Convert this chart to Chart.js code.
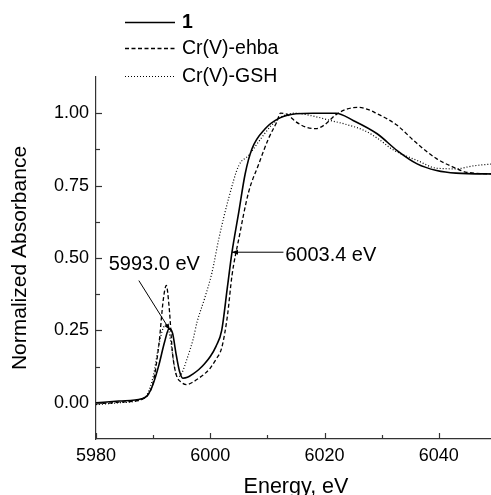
<!DOCTYPE html>
<html>
<head>
<meta charset="utf-8">
<script src="https://cdn.jsdelivr.net/npm/chart.js@4.4.0/dist/chart.umd.min.js"></script>
<style>
  html, body { margin: 0; padding: 0; background: #fff; overflow: hidden; }
  #wrap { width: 491px; height: 495px; overflow: hidden; }
</style>
</head>
<body>
<div id="wrap"><canvas id="xanes" width="502" height="495"></canvas></div>
<script>
  // sample 1 (solid)
  const energy1 = [5980, 5984, 5988, 5989, 5990, 5991, 5992, 5992.8, 5993.4, 5994, 5994.6, 5995.2, 5996, 5997, 5998, 5999, 6000, 6001, 6002, 6003, 6003.8, 6005, 6006.1, 6007.3, 6009.6, 6012, 6015, 6018, 6022, 6025, 6029.2, 6032.7, 6036.2, 6039.6, 6043, 6050];
  const abs1 = [0.000, 0.006, 0.014, 0.025, 0.065, 0.13, 0.21, 0.256, 0.24, 0.17, 0.11, 0.085, 0.088, 0.10, 0.115, 0.135, 0.16, 0.195, 0.25, 0.40, 0.52, 0.66, 0.79, 0.877, 0.946, 0.982, 0.998, 1.0, 1.0, 0.975, 0.929, 0.871, 0.825, 0.802, 0.793, 0.79];

  // Cr(V)-ehba (dashed)
  const energy2 = [5980, 5984, 5988, 5989, 5990, 5991, 5991.8, 5992.3, 5992.8, 5993.4, 5994, 5995, 5995.8, 5997, 5998, 5999, 6000, 6001, 6002, 6003, 6003.8, 6005, 6006.7, 6008.4, 6010.2, 6011.6, 6012.3, 6013.5, 6015, 6017, 6018.5, 6020, 6022, 6024, 6026, 6028, 6029.2, 6031, 6032.7, 6036.2, 6039.6, 6042.5, 6044.9, 6050];
  const abs2 = [-0.004, 0.002, 0.012, 0.025, 0.07, 0.20, 0.36, 0.405, 0.33, 0.17, 0.10, 0.07, 0.063, 0.072, 0.085, 0.10, 0.12, 0.15, 0.19, 0.30, 0.44, 0.567, 0.727, 0.82, 0.913, 0.968, 1.0, 0.995, 0.97, 0.95, 0.947, 0.96, 0.995, 1.015, 1.02, 1.01, 0.998, 0.98, 0.958, 0.895, 0.843, 0.814, 0.796, 0.79];

  // Cr(V)-GSH (dotted)
  const energy3 = [5980, 5984, 5988, 5989, 5990, 5991, 5991.8, 5992.4, 5993, 5993.6, 5994.2, 5994.8, 5996, 5997, 5997.7, 5999, 6000.3, 6001.5, 6003.2, 6005, 6006.7, 6008.4, 6010.7, 6012.5, 6014.8, 6018, 6021, 6024, 6027, 6029.5, 6031.5, 6032.7, 6036.2, 6039.6, 6043, 6046, 6050];
  const abs3 = [-0.006, 0.0, 0.012, 0.03, 0.09, 0.20, 0.26, 0.27, 0.22, 0.14, 0.09, 0.095, 0.156, 0.22, 0.28, 0.36, 0.45, 0.567, 0.705, 0.82, 0.854, 0.90, 0.958, 0.988, 1.0, 0.99, 0.975, 0.96, 0.94, 0.91, 0.88, 0.866, 0.837, 0.81, 0.808, 0.818, 0.826];

  const seriesNames = ["1", "Cr(V)-ehba", "Cr(V)-GSH"];
  const seriesDash = [[], [4, 2.5], [1, 2]];
  const yTicks = [0, 0.125, 0.25, 0.375, 0.5, 0.625, 0.75, 0.875, 1.0];
  const xTicks = [5980, 5990, 6000, 6010, 6020, 6030, 6040, 6050];

  // annotations: [text, textE, textA, fromE, fromA, toE, toA, textAlign]
  const notes = [
    ["5993.0 eV", 5990.2, 0.477, 5987.5, 0.422, 5992.9, 0.252, "center"],
    ["6003.4 eV", 6013.1, 0.508, 6012.8, 0.52, 6003.8, 0.52, "left"],
  ];

  const FONT = "'Liberation Sans', Arial, sans-serif";

  function zip(xs, ys) {
    return xs.map((x, i) => ({ x: x, y: ys[i] }));
  }

  function arrowHead(ctx, x1, y1, x2, y2) {
    const ang = Math.atan2(y2 - y1, x2 - x1);
    const len = 6, wid = 2.5;
    ctx.beginPath();
    ctx.moveTo(x2, y2);
    ctx.lineTo(x2 - len * Math.cos(ang) + wid * Math.sin(ang), y2 - len * Math.sin(ang) - wid * Math.cos(ang));
    ctx.lineTo(x2 - len * Math.cos(ang) - wid * Math.sin(ang), y2 - len * Math.sin(ang) + wid * Math.cos(ang));
    ctx.closePath();
    ctx.fill();
  }

  const extras = {
    id: "extras",
    afterDraw(chart) {
      const ctx = chart.ctx;
      const xs = chart.scales.x, ys = chart.scales.y;
      const area = chart.chartArea;
      ctx.save();
      ctx.strokeStyle = "#333";
      ctx.lineWidth = 1.2;
      // inward ticks
      yTicks.forEach((v) => {
        const y = Math.round(ys.getPixelForValue(v)) + 0.5;
        const len = (v / 0.25) % 1 === 0 ? 6 : 4;
        ctx.beginPath();
        ctx.moveTo(area.left, y);
        ctx.lineTo(area.left + len, y);
        ctx.stroke();
      });
      xTicks.forEach((v) => {
        const x = Math.round(xs.getPixelForValue(v)) + 0.5;
        const len = ((v - 5980) / 20) % 1 === 0 ? 6 : 4;
        ctx.beginPath();
        ctx.moveTo(x, area.bottom);
        ctx.lineTo(x, area.bottom - len);
        ctx.stroke();
      });

      // annotations
      ctx.strokeStyle = "#000";
      ctx.fillStyle = "#000";
      ctx.lineWidth = 1;
      ctx.font = "20px " + FONT;
      ctx.textBaseline = "middle";
      notes.forEach((n) => {
        const x1 = xs.getPixelForValue(n[3]), y1 = ys.getPixelForValue(n[4]);
        const x2 = xs.getPixelForValue(n[5]), y2 = ys.getPixelForValue(n[6]);
        ctx.beginPath();
        ctx.moveTo(x1, y1);
        ctx.lineTo(x2, y2);
        ctx.stroke();
        arrowHead(ctx, x1, y1, x2, y2);
        ctx.textAlign = n[7];
        ctx.fillText(n[0], xs.getPixelForValue(n[1]), ys.getPixelForValue(n[2]));
      });

      // legend
      const legendY = [22, 48, 76];
      ctx.textAlign = "left";
      chart.data.datasets.forEach((ds, i) => {
        ctx.save();
        ctx.setLineDash(ds.borderDash || []);
        ctx.lineWidth = ds.borderWidth;
        ctx.beginPath();
        ctx.moveTo(125, legendY[i] + 0.5);
        ctx.lineTo(175, legendY[i] + 0.5);
        ctx.stroke();
        ctx.restore();
        ctx.font = (i === 0 ? "bold " : "") + "19.5px " + FONT;
        ctx.fillText(seriesNames[i], 182, legendY[i] + 1);
      });
      ctx.restore();
    },
  };

  const ctx = document.getElementById("xanes").getContext("2d");
  new Chart(ctx, {
    type: "line",
    data: {
      datasets: [
        { label: seriesNames[0], data: zip(energy1, abs1), borderColor: "#000", borderWidth: 1.6, borderDash: seriesDash[0] },
        { label: seriesNames[1], data: zip(energy2, abs2), borderColor: "#000", borderWidth: 1.3, borderDash: seriesDash[1] },
        { label: seriesNames[2], data: zip(energy3, abs3), borderColor: "#000", borderWidth: 1.2, borderDash: seriesDash[2] },
      ],
    },
    options: {
      responsive: false,
      animation: false,
      devicePixelRatio: 1,
      layout: { padding: { top: 77, right: 2, left: 0, bottom: 0 } },
      elements: {
        point: { radius: 0 },
        line: { cubicInterpolationMode: "monotone", fill: false },
      },
      plugins: { legend: { display: false }, tooltip: { enabled: false } },
      scales: {
        x: {
          type: "linear",
          min: 5980,
          max: 6050,
          afterFit(scale) { scale.height = 56; },
          afterBuildTicks(scale) { scale.ticks = xTicks.map((v) => ({ value: v })); },
          grid: { display: false, drawTicks: false },
          border: { display: true, color: "#333", width: 1.2 },
          ticks: {
            autoSkip: false,
            maxRotation: 0,
            padding: 6,
            color: "#000",
            font: { family: FONT, size: 18 },
            callback: (v) => (((v - 5980) / 20) % 1 === 0 && v < 6050 ? String(v) : ""),
          },
          title: {
            display: true,
            text: "Energy, eV",
            color: "#000",
            font: { family: FONT, size: 21.5 },
            padding: { top: 0, bottom: -5 },
          },
        },
        y: {
          type: "linear",
          min: -0.125,
          max: 1.125,
          afterFit(scale) { scale.width = 96; },
          afterBuildTicks(scale) { scale.ticks = yTicks.map((v) => ({ value: v })); },
          grid: { display: false, drawTicks: false },
          border: { display: true, color: "#333", width: 1.2 },
          ticks: {
            padding: 7,
            color: "#000",
            font: { family: FONT, size: 18 },
            callback: (v) => ((v / 0.25) % 1 === 0 ? v.toFixed(2) : ""),
          },
          title: {
            display: true,
            text: "Normalized Absorbance",
            color: "#000",
            font: { family: FONT, size: 21 },
            padding: { top: 8, bottom: 0 },
          },
        },
      },
    },
    plugins: [extras],
  });
</script>
</body>
</html>
